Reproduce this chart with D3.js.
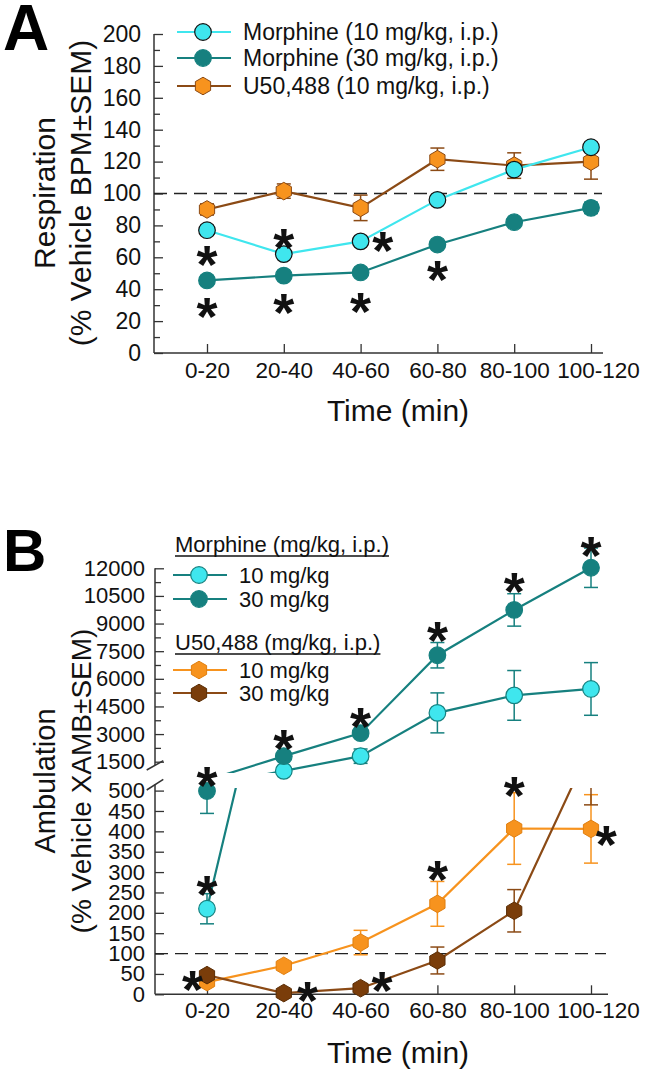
<!DOCTYPE html>
<html><head><meta charset="utf-8">
<script src="https://cdn.jsdelivr.net/npm/d3@7"></script>
<style>body{margin:0;background:#fff}</style>
</head><body>
<svg id="c" width="645" height="1079"></svg>
<script>
// ---------- DATA ----------
const categories = ["0-20","20-40","40-60","60-80","80-100","100-120"];

// Panel A: Respiration (% vehicle BPM)
const respMorph10    = [77, 62, 70, 96, 115, 129];
const respMorph10Sem = [3, 2.5, 2.5, 2, 3, 3];
const respMorph30    = [45.5, 48.5, 50.5, 68, 82, 91];
const respMorph30Sem = [3, 2, 2, 2, 2, 3.5];
const respU50        = [90, 101.5, 91, 121.5, 117.5, 120];
const respU50Sem     = [3.5, 4.5, 8, 7, 8, 11];
const respTicks      = [0,20,40,60,80,100,120,140,160,180,200];
const respMinorTicks = [10,30,50,70,90,110,130,150,170,190];
// stars: [category index, category offset, value]
const respStars = [[0,0,64],[0,0,31.5],[1,0,75],[1,0,34],[2,0.29,73],[2,0,35],[3,0,54.5]];

// Panel B: Ambulation (% vehicle XAMB)
const ambMorph10     = [210, 1000, 1800, 4150, 5100, 5450];
const ambMorph10Sem  = [37, 150, 390, 1085, 1350, 1430];
const ambMorph30     = [499, 1800, 3050, 7280, 9740, 12030];
const ambMorph30Sem  = [55, 150, 150, 690, 880, 1070];
const ambU50a        = [30, 70, 127, 222, 407, 406];
const ambU50aSem     = [8, 8, 30, 55, 88, 84];
const ambU50b        = [47, 3, 15, 83, 205, 610];
const ambU50bSem     = [8, 3, 5, 33, 52, 145];
const ambLowTicks    = [0,50,100,150,200,250,300,350,400,450,500];
const ambHighTicks   = [1500,3000,4500,6000,7500,9000,10500,12000];
const ambHighMinor   = [2250,3750,5250,6750,8250,9750,11250];
// stars: [category index, category offset, value, segment]
const ambStars = [[0,0,546,"lo"],[0,0,280,"lo"],[0,-0.19,47,"lo"],
  [1,0,2950,"hi"],[1,0.31,19,"lo"],[2,0,4144,"hi"],[2,0.28,43,"lo"],
  [3,0,8830,"hi"],[3,0,317,"lo"],[4,0,11470,"hi"],[4,0,522,"lo"],
  [5,0,13440,"hi"],[5,0.2,403,"lo"]];

// ---------- STYLE ----------
const F = "'Liberation Sans', Arial, sans-serif";
const CYAN = "#3fe6ee", TEAL = "#16807f", ORANGE = "#f7931e", BROWNLINE = "#8b4a15", DARKBROWN = "#7a3d0a", AXIS = "#333";

const svg = d3.select("#c");
const defs = svg.append("defs");

const x = d3.scalePoint().domain(categories).range([207, 591]);
const step = x.step();

function hexPath(r){
  const pts = d3.range(6).map(i => { const a = -Math.PI/2 + i*Math.PI/3; return [r*Math.cos(a), r*Math.sin(a)]; });
  return "M" + pts.map(p=>p.join(",")).join("L") + "Z";
}

function styleAxis(g, fs){
  g.select(".domain").remove();
  g.selectAll("line").attr("stroke", AXIS).attr("stroke-width", 1.3);
  g.selectAll("text").attr("font-family", F).attr("font-size", fs).attr("fill", "#111");
}
function shiftLastLabel(g){
  g.selectAll(".tick text").filter(d => d === categories[categories.length-1]).attr("dx", 7);
}

function drawSeries(g, vals, sems, y, o){
  const pts = vals.map((v,i)=>[x(categories[i]), y(v), v]);
  const lg = g.append("g").attr("clip-path", o.clip ? `url(#${o.clip})` : null);
  vals.forEach((v,i)=>{
    const cx = x(categories[i]);
    const y1 = y(v + sems[i]), y2 = y(v - sems[i]);
    lg.append("line").attr("x1",cx).attr("x2",cx).attr("y1",y1).attr("y2",y2).attr("stroke",o.err).attr("stroke-width",1.5);
    [y1,y2].forEach(yy=> lg.append("line").attr("x1",cx-7).attr("x2",cx+7).attr("y1",yy).attr("y2",yy).attr("stroke",o.err).attr("stroke-width",1.5));
  });
  lg.append("path").attr("d", d3.line()(pts.map(p=>[p[0],p[1]])))
    .attr("fill","none").attr("stroke",o.line).attr("stroke-width",2.2);
  pts.filter(p=>!o.show || o.show(p[2])).forEach(p=>{
    if (o.shape === "hex")
      g.append("path").attr("d", hexPath(8.8)).attr("transform",`translate(${p[0]},${p[1]})`)
        .attr("fill",o.fill).attr("stroke",o.stroke).attr("stroke-width",1);
    else
      g.append("circle").attr("cx",p[0]).attr("cy",p[1]).attr("r",8.3)
        .attr("fill",o.fill).attr("stroke",o.stroke).attr("stroke-width",1.2);
  });
}

function star(g, cx, cy){
  const fs = 54;
  g.append("text").attr("x",cx).attr("y",cy + 0.6*fs).attr("text-anchor","middle")
    .attr("font-family",F).attr("font-weight","bold").attr("font-size",fs).attr("fill","#111").text("*");
}

function legendRow(g, x0, y0, lineColor, fill, stroke, shape, label, fs){
  g.append("line").attr("x1",x0).attr("x2",x0+54).attr("y1",y0).attr("y2",y0).attr("stroke",lineColor).attr("stroke-width",2.2);
  if (shape === "hex")
    g.append("path").attr("d",hexPath(8.8)).attr("transform",`translate(${x0+26},${y0})`).attr("fill",fill).attr("stroke",stroke).attr("stroke-width",1);
  else
    g.append("circle").attr("cx",x0+26).attr("cy",y0).attr("r",8.3).attr("fill",fill).attr("stroke",stroke).attr("stroke-width",1.2);
  g.append("text").attr("x",x0+66).attr("y",y0+8).attr("font-family",F).attr("font-size",fs).attr("fill","#111").text(label);
}

// ================= PANEL A =================
const yA = d3.scaleLinear().domain([0,200]).range([353,34]);
const A = svg.append("g");
A.append("text").attr("x",3).attr("y",50).attr("font-family",F).attr("font-weight","bold").attr("font-size",64).text("A");

styleAxis(A.append("g").attr("transform","translate(154,0)")
  .call(d3.axisLeft(yA).tickValues(respTicks).tickSize(-9).tickPadding(13)), 23);
styleAxis(A.append("g").attr("transform","translate(154,0)")
  .call(d3.axisLeft(yA).tickValues(respMinorTicks).tickSize(-6).tickFormat("")), 23);
const axA = A.append("g").attr("transform","translate(0,353)")
  .call(d3.axisBottom(x).tickSize(-9).tickPadding(9));
styleAxis(axA, 22.5); shiftLastLabel(axA);
A.append("line").attr("x1",154).attr("x2",154).attr("y1",yA(200)).attr("y2",353).attr("stroke",AXIS).attr("stroke-width",1.5);
A.append("line").attr("x1",154).attr("x2",603).attr("y1",353).attr("y2",353).attr("stroke",AXIS).attr("stroke-width",1.5);
A.append("line").attr("x1",154).attr("x2",602).attr("y1",yA(100)).attr("y2",yA(100))
  .attr("stroke","#222").attr("stroke-width",1.3).attr("stroke-dasharray","13,7");

drawSeries(A, respU50, respU50Sem, yA, {line:BROWNLINE, err:BROWNLINE, fill:ORANGE, stroke:BROWNLINE, shape:"hex"});
drawSeries(A, respMorph10, respMorph10Sem, yA, {line:CYAN, err:"#222", fill:CYAN, stroke:"#111", shape:"circle"});
drawSeries(A, respMorph30, respMorph30Sem, yA, {line:TEAL, err:TEAL, fill:TEAL, stroke:TEAL, shape:"circle"});
respStars.forEach(s=> star(A, x(categories[s[0]]) + s[1]*step, yA(s[2])));

legendRow(A, 177, 32, CYAN, CYAN, "#111", "circle", "Morphine (10 mg/kg, i.p.)", 23);
legendRow(A, 177, 58, TEAL, TEAL, TEAL, "circle", "Morphine (30 mg/kg, i.p.)", 23);
legendRow(A, 177, 86, BROWNLINE, ORANGE, BROWNLINE, "hex", "U50,488 (10 mg/kg, i.p.)", 23);

A.append("text").attr("transform","translate(55,193) rotate(-90)").attr("text-anchor","middle")
  .attr("font-family",F).attr("font-size",30).attr("fill","#111").text("Respiration");
A.append("text").attr("transform","translate(91,193) rotate(-90)").attr("text-anchor","middle")
  .attr("font-family",F).attr("font-size",30).attr("fill","#111").text("(% Vehicle BPM±SEM)");
A.append("text").attr("x",398).attr("y",421).attr("text-anchor","middle")
  .attr("font-family",F).attr("font-size",30).attr("fill","#111").text("Time (min)");

// ================= PANEL B =================
const yLo = d3.scaleLinear().domain([0,500]).range([994.3,790.6]);
const yHi = d3.scaleLinear().domain([1500,12000]).range([761.7,568.3]);
defs.append("clipPath").attr("id","clipLo").append("rect").attr("x",0).attr("y",788).attr("width",645).attr("height",291);
defs.append("clipPath").attr("id","clipHi").append("rect").attr("x",0).attr("y",0).attr("width",645).attr("height",773);

const B = svg.append("g");
B.append("text").attr("x",3).attr("y",571).attr("font-family",F).attr("font-weight","bold").attr("font-size",60).text("B");

styleAxis(B.append("g").attr("transform","translate(155,0)")
  .call(d3.axisLeft(yLo).tickValues(ambLowTicks).tickSize(-9).tickPadding(10).tickFormat(d3.format("d"))), 22);
styleAxis(B.append("g").attr("transform","translate(155,0)")
  .call(d3.axisLeft(yHi).tickValues(ambHighTicks).tickSize(-9).tickPadding(10).tickFormat(d3.format("d"))), 22);
styleAxis(B.append("g").attr("transform","translate(155,0)")
  .call(d3.axisLeft(yHi).tickValues(ambHighMinor).tickSize(-6).tickFormat("")), 22);
const axB = B.append("g").attr("transform","translate(0,994.3)")
  .call(d3.axisBottom(x).tickSize(-9).tickPadding(8));
styleAxis(axB, 22.5); shiftLastLabel(axB);
B.append("line").attr("x1",155).attr("x2",155).attr("y1",yHi(12000)).attr("y2",765).attr("stroke",AXIS).attr("stroke-width",1.5);
B.append("line").attr("x1",155).attr("x2",155).attr("y1",784.5).attr("y2",994.3).attr("stroke",AXIS).attr("stroke-width",1.5);
B.append("line").attr("x1",146.7).attr("x2",163.3).attr("y1",770).attr("y2",760.7).attr("stroke",AXIS).attr("stroke-width",1.5);
B.append("line").attr("x1",146.7).attr("x2",163.3).attr("y1",790).attr("y2",779.3).attr("stroke",AXIS).attr("stroke-width",1.5);
B.append("line").attr("x1",155).attr("x2",608).attr("y1",994.3).attr("y2",994.3).attr("stroke",AXIS).attr("stroke-width",1.5);
B.append("line").attr("x1",155).attr("x2",606).attr("y1",yLo(100)).attr("y2",yLo(100))
  .attr("stroke","#222").attr("stroke-width",1.3).attr("stroke-dasharray","13,7");

const segs = [
  {y:yLo, clip:"clipLo", show:v=>v<=515},
  {y:yHi, clip:"clipHi", show:v=>v>=900}
];
segs.forEach(s=>{
  const g = B.append("g");
  drawSeries(g, ambU50a, ambU50aSem, s.y, {line:ORANGE, err:ORANGE, fill:ORANGE, stroke:"#e07f10", shape:"hex", clip:s.clip, show:s.show});
  drawSeries(g, ambU50b, ambU50bSem, s.y, {line:BROWNLINE, err:BROWNLINE, fill:DARKBROWN, stroke:"#5a2d05", shape:"hex", clip:s.clip, show:s.show});
  drawSeries(g, ambMorph10, ambMorph10Sem, s.y, {line:TEAL, err:TEAL, fill:CYAN, stroke:TEAL, shape:"circle", clip:s.clip, show:s.show});
  drawSeries(g, ambMorph30, ambMorph30Sem, s.y, {line:TEAL, err:TEAL, fill:TEAL, stroke:TEAL, shape:"circle", clip:s.clip, show:s.show});
});
ambStars.forEach(s=> star(B, x(categories[s[0]]) + s[1]*step, (s[3]==="lo"?yLo:yHi)(s[2])));

function underlined(g, x0, yb, label){
  const t = g.append("text").attr("x",x0).attr("y",yb).attr("font-family",F).attr("font-size",22).attr("fill","#111").text(label);
  const w = t.node().getComputedTextLength();
  g.append("line").attr("x1",x0).attr("x2",x0+w).attr("y1",yb+4).attr("y2",yb+4).attr("stroke","#111").attr("stroke-width",1.3);
}
underlined(B, 175, 552, "Morphine (mg/kg, i.p.)");
legendRow(B, 173, 575, TEAL, CYAN, TEAL, "circle", "10 mg/kg", 22);
legendRow(B, 173, 599, TEAL, TEAL, TEAL, "circle", "30 mg/kg", 22);
underlined(B, 175, 650, "U50,488 (mg/kg, i.p.)");
legendRow(B, 173, 670, ORANGE, ORANGE, "#e07f10", "hex", "10 mg/kg", 22);
legendRow(B, 173, 693, BROWNLINE, DARKBROWN, "#5a2d05", "hex", "30 mg/kg", 22);

B.append("text").attr("transform","translate(55,781) rotate(-90)").attr("text-anchor","middle")
  .attr("font-family",F).attr("font-size",29).attr("fill","#111").text("Ambulation");
B.append("text").attr("transform","translate(91,781) rotate(-90)").attr("text-anchor","middle")
  .attr("font-family",F).attr("font-size",28).attr("fill","#111").text("(% Vehicle XAMB±SEM)");
B.append("text").attr("x",398).attr("y",1063).attr("text-anchor","middle")
  .attr("font-family",F).attr("font-size",30).attr("fill","#111").text("Time (min)");
</script>
</body></html>
